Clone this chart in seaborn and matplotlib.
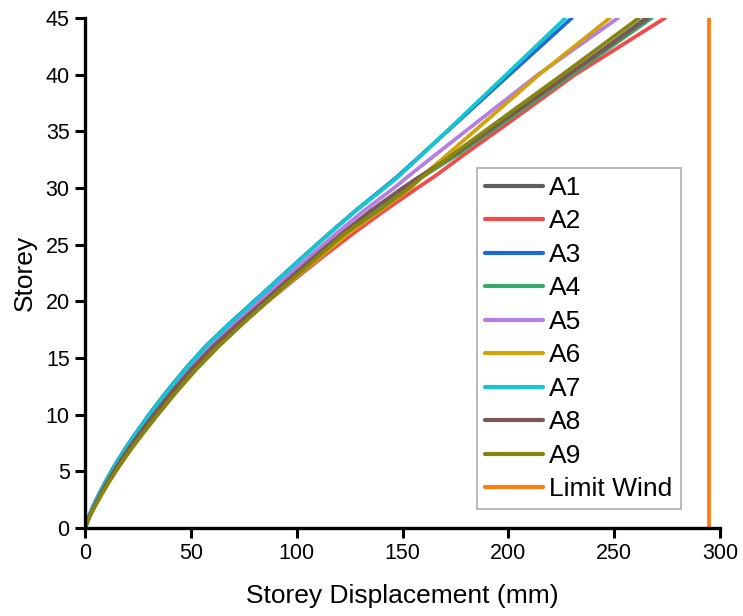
import numpy as np
import pandas as pd
import matplotlib
matplotlib.use("Agg")
import matplotlib.pyplot as plt
import seaborn as sns

storeys = [0, 1, 2, 3, 4, 5, 6, 7, 8, 10, 12, 14, 16, 18, 20, 22, 24, 26, 28, 30, 31, 33, 36, 40, 45]

A1 = [0, 2.0, 4.6, 7.5, 10.5, 13.7, 17.1, 20.7, 24.5, 32.6, 41.2, 50.4, 60.6, 72.5, 84.8, 97.0, 109.4, 122.0, 135.4, 150.5, 158.5, 175.5, 198.5, 228.5, 265.0]
A2 = [0, 2.0, 4.6, 7.5, 10.6, 13.9, 17.4, 21.1, 25.0, 33.2, 42.0, 51.4, 61.8, 73.8, 86.4, 99.4, 112.8, 126.8, 141.5, 157.0, 165.0, 179.5, 202.0, 231.5, 274.0]
A3 = [0, 1.7, 4.0, 6.6, 9.4, 12.4, 15.6, 19.0, 22.6, 30.2, 38.4, 47.2, 56.8, 68.0, 79.8, 91.6, 103.4, 115.4, 127.8, 141.0, 147.5, 159.3, 177.0, 200.5, 230.0]
A4 = [0, 2.1, 4.7, 7.6, 10.7, 13.9, 17.3, 21.0, 24.8, 32.9, 41.6, 50.9, 61.2, 73.0, 85.0, 97.2, 109.7, 122.6, 136.4, 151.5, 159.5, 176.5, 199.5, 230.0, 267.7]
A5 = [0, 1.9, 4.4, 7.1, 10.0, 13.1, 16.4, 19.9, 23.6, 31.4, 39.8, 48.8, 58.8, 70.2, 82.2, 94.2, 106.4, 118.8, 131.8, 146.0, 152.5, 166.0, 186.5, 214.0, 251.8]
A6 = [0, 2.1, 4.8, 7.7, 10.8, 14.1, 17.6, 21.3, 25.2, 33.4, 42.2, 51.6, 62.0, 73.8, 86.2, 98.8, 111.6, 124.6, 139.5, 154.0, 159.0, 171.5, 190.0, 214.5, 248.0]
A7 = [0, 1.8, 4.2, 6.8, 9.6, 12.6, 15.8, 19.2, 22.8, 30.4, 38.6, 47.4, 57.0, 68.2, 80.0, 91.8, 103.6, 115.6, 128.0, 141.5, 148.0, 159.5, 176.5, 199.0, 227.0]
A8 = [0, 2.0, 4.6, 7.4, 10.4, 13.6, 17.0, 20.6, 24.4, 32.4, 41.0, 50.2, 60.4, 72.2, 84.5, 96.5, 108.8, 121.5, 135.0, 150.0, 158.0, 175.0, 198.0, 228.5, 266.0]
A9 = [0, 2.2, 5.0, 8.0, 11.2, 14.6, 18.2, 22.0, 26.0, 34.4, 43.2, 52.6, 63.0, 74.4, 86.2, 98.2, 110.4, 122.8, 138.5, 153.0, 159.5, 174.0, 196.0, 225.5, 261.7]

limit_wind = 295
limit_storeys = [0, 45]

series_names = ["A1", "A2", "A3", "A4", "A5", "A6", "A7", "A8", "A9", "Limit Wind"]
series_values = [A1, A2, A3, A4, A5, A6, A7, A8, A9]

colors = {
    "A1": "#5e5e5e",
    "A2": "#f24a4a",
    "A3": "#1f68d6",
    "A4": "#3aa86b",
    "A5": "#b47ee6",
    "A6": "#d4a00c",
    "A7": "#14c6cf",
    "A8": "#7a5752",
    "A9": "#858510",
    "Limit Wind": "#ff7a10",
}

rows = []
for name, vals in zip(series_names[:-1], series_values):
    for s, d in zip(storeys, vals):
        rows.append({"series": name, "disp": d, "storey": s})
for s in limit_storeys:
    rows.append({"series": "Limit Wind", "disp": limit_wind, "storey": s})
df = pd.DataFrame(rows)

sns.set_theme(style="ticks")
plt.rcParams["font.family"] = ["Liberation Sans", "DejaVu Sans"]

fig = plt.figure(figsize=(7.43, 6.16), dpi=100)
ax = fig.add_axes([85 / 743, (616 - 528) / 616, 635 / 743, 510 / 616])

sns.lineplot(data=df, x="disp", y="storey", hue="series", hue_order=series_names,
             palette=colors, sort=False, estimator=None, linewidth=2.7, ax=ax)

ax.set_xlim(0, 300)
ax.set_ylim(0, 45)
ax.set_xticks([0, 50, 100, 150, 200, 250, 300])
ax.set_yticks(range(0, 46, 5))
ax.set_xlabel("Storey Displacement (mm)", fontsize=19, labelpad=14, color="black")
ax.set_ylabel("Storey", fontsize=19, labelpad=6, color="black")
ax.tick_params(axis="both", direction="out", length=7, width=2.2, labelsize=15.5,
               color="black", labelcolor="black", pad=4)
for side in ["top", "right"]:
    ax.spines[side].set_visible(False)
for side in ["left", "bottom"]:
    ax.spines[side].set_linewidth(2.4)
    ax.spines[side].set_color("black")

handles, labels = ax.get_legend_handles_labels()
leg = ax.legend(handles, labels, loc="upper left", bbox_to_anchor=(0.617, 0.706),
                fontsize=19, frameon=True, fancybox=False, edgecolor="#9a9a9a",
                handlelength=2.2, handletextpad=0.25, labelspacing=0.36,
                borderpad=0.3, borderaxespad=0)
leg.get_frame().set_linewidth(1.2)
for t in leg.get_texts():
    t.set_color("black")
for line in leg.get_lines():
    line.set_linewidth(3)

fig.savefig("out.png", dpi=100)
